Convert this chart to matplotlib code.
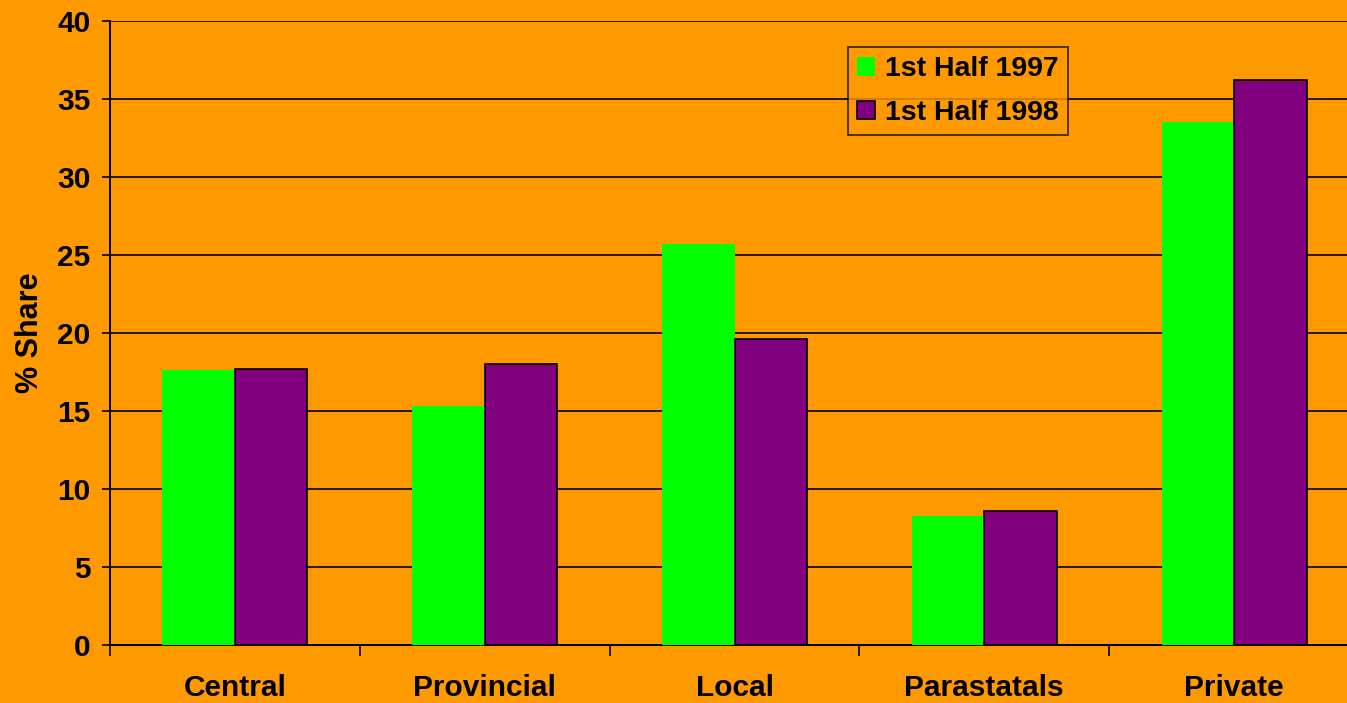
import matplotlib.pyplot as plt
import numpy as np
from matplotlib.patches import Patch

categories = ["Central", "Provincial", "Local", "Parastatals", "Private"]
half_1997 = [17.6, 15.3, 25.7, 8.3, 33.5]
half_1998 = [17.7, 18.0, 19.6, 8.6, 36.2]
series_names = ["1st Half 1997", "1st Half 1998"]
yticks = [0, 5, 10, 15, 20, 25, 30, 35, 40]

bg = "#FF9900"
green = "#00FF00"
purple = "#800080"

plt.rcParams["font.family"] = ["Liberation Sans", "DejaVu Sans"]
plt.rcParams["font.weight"] = "bold"

W, H = 1347, 703
fig = plt.figure(figsize=(W / 100, H / 100), dpi=100, facecolor=bg)
# plot area runs a bit past the right edge, like the original slide
left, right, top, bottom = 110, 1359, 21, 645
ax = fig.add_axes([left / W, 1 - bottom / H, (right - left) / W, (bottom - top) / H])
ax.set_facecolor(bg)

x = np.arange(len(categories))
w = 0.29
ax.bar(x - w / 2, half_1997, w, color=green, linewidth=0, zorder=3)
ax.bar(x + w / 2, half_1998, w, color=purple, edgecolor="black", linewidth=1.2, zorder=3)

ax.set_xlim(-0.5, len(categories) - 0.5)
ax.set_ylim(0, 40)
ax.set_yticks(yticks)
ax.yaxis.grid(True, color="black", linewidth=1.2, zorder=0)
ax.set_axisbelow(True)

ax.set_xticks(np.arange(len(categories) + 1) - 0.5)
ax.set_xticklabels([])
ax.set_xticks(x, minor=True)
ax.set_xticklabels(categories, minor=True, fontsize=21.5, fontweight="bold")
ax.tick_params(axis="x", which="minor", length=0, pad=21)
ax.tick_params(axis="x", which="major", length=8, width=1.2, direction="out")
ax.tick_params(axis="y", length=6, width=1.2, direction="out", labelsize=21.5, pad=8)
for lab in ax.get_yticklabels():
    lab.set_fontweight("bold")

for s in ["top", "right"]:
    ax.spines[s].set_visible(False)
for s in ["left", "bottom"]:
    ax.spines[s].set_linewidth(1.4)

ax.set_ylabel("% Share", fontsize=22, fontweight="bold", labelpad=9)

handles = [Patch(facecolor=green, edgecolor=green, linewidth=0),
           Patch(facecolor=purple, edgecolor="black", linewidth=1.2)]
leg = fig.legend(handles, series_names, loc="upper left",
                 bbox_to_anchor=(848 / W, 1 - 47 / H),
                 prop={"weight": "bold", "size": 20.5},
                 frameon=True, fancybox=False, handlelength=0.63, handleheight=0.63,
                 handletextpad=0.35, borderpad=0.33, labelspacing=0.62, borderaxespad=0)
leg.get_frame().set_facecolor(bg)
leg.get_frame().set_edgecolor("black")
leg.get_frame().set_linewidth(1.2)

fig.savefig("out.png", dpi=100, facecolor=bg)
